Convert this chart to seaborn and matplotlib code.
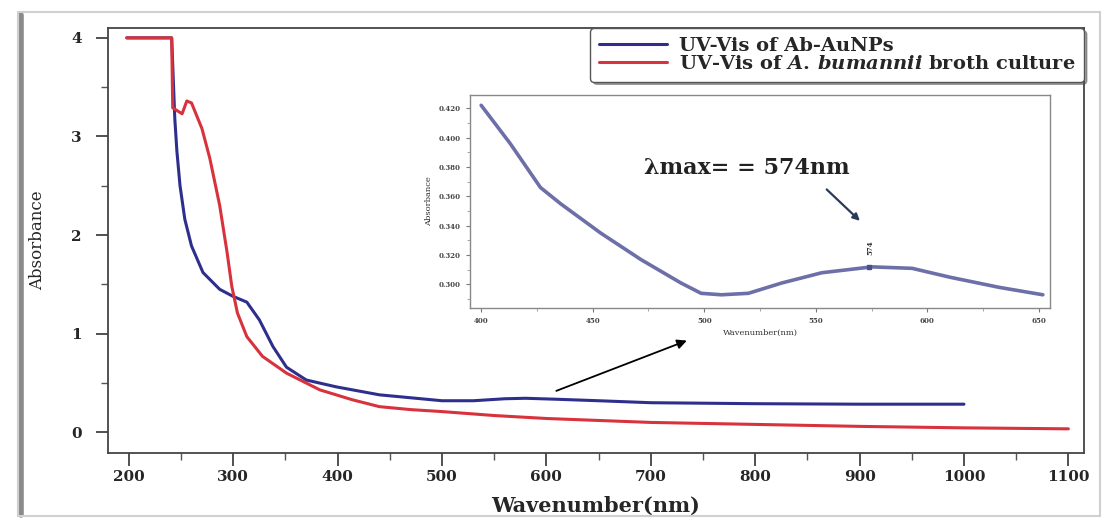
import numpy as np
import pandas as pd
import matplotlib
matplotlib.use("Agg")
import matplotlib.pyplot as plt
import seaborn as sns
from matplotlib.ticker import MultipleLocator, FormatStrFormatter
from matplotlib.patches import Rectangle
from matplotlib.lines import Line2D

# ---------------- data ----------------
blue_nm = [198, 241, 244, 246, 249, 253.6, 260, 271, 287, 299.5, 313, 325, 338, 351, 370, 399,
           440, 470, 500, 530, 560, 580, 610, 650, 700, 800, 900, 1000]
blue_abs = [4.0, 4.0, 3.18, 2.85, 2.50, 2.16, 1.89, 1.62, 1.45, 1.38, 1.32, 1.14, 0.87, 0.66, 0.53, 0.46,
            0.38, 0.35, 0.32, 0.32, 0.34, 0.345, 0.335, 0.32, 0.30, 0.29, 0.285, 0.285]

red_nm = [198, 241, 242, 251, 255.5, 260, 270, 277.5, 287, 294, 298.6, 304, 313, 328, 351, 383, 414,
          440, 470, 500, 550, 600, 650, 700, 800, 900, 1000, 1100]
red_abs = [4.0, 4.0, 3.29, 3.23, 3.36, 3.34, 3.08, 2.78, 2.30, 1.83, 1.48, 1.21, 0.97, 0.77, 0.60, 0.43, 0.33,
           0.26, 0.23, 0.21, 0.17, 0.14, 0.12, 0.10, 0.08, 0.06, 0.045, 0.035]

inset_nm = [400, 413, 426.6, 435.6, 453.6, 471.6, 489.6, 498.6, 507.7, 519.8, 534.7, 552.7, 575.2,
            593.2, 610, 632.4, 651.8]
inset_abs = [0.422, 0.396, 0.366, 0.355, 0.335, 0.317, 0.301, 0.294, 0.293, 0.294, 0.301, 0.308, 0.312,
             0.311, 0.305, 0.298, 0.293]

series_names = ["UV-Vis of Ab-AuNPs", "UV-Vis of $\\mathit{A.\\,bumannii}$ broth culture"]
main_xticks = [200, 300, 400, 500, 600, 700, 800, 900, 1000, 1100]
main_yticks = [0, 1, 2, 3, 4]
inset_xticks = [400, 450, 500, 550, 600, 650]
inset_yticks = [0.30, 0.32, 0.34, 0.36, 0.38, 0.40, 0.42]
peak_nm = 574
peak_abs = 0.312

# ---------------- style ----------------
sns.set_theme(style="ticks")
plt.rcParams['font.family'] = ['DejaVu Serif']
plt.rcParams['font.weight'] = 'bold'
plt.rcParams['mathtext.fontset'] = 'custom'
plt.rcParams['mathtext.it'] = 'DejaVu Serif:italic:bold'
plt.rcParams['mathtext.rm'] = 'DejaVu Serif:bold'

BLUE = "#2e2f8c"
RED = "#d8323c"
INSET = "#6d70a8"

df = pd.concat([
    pd.DataFrame({"nm": blue_nm, "abs": blue_abs, "series": series_names[0]}),
    pd.DataFrame({"nm": red_nm, "abs": red_abs, "series": series_names[1]}),
], ignore_index=True)

fig = plt.figure(figsize=(11.02, 5.20), dpi=100)
ax = fig.add_axes([108/1102, 1-453/520, (1084-108)/1102, (453-28)/520])

sns.lineplot(data=df, x="nm", y="abs", hue="series", palette=[BLUE, RED],
             estimator=None, sort=False, lw=2.2, ax=ax)

ax.set_xlim(180, 1115)
ax.set_ylim(-0.21, 4.1)
ax.set_xticks(main_xticks)
ax.set_yticks(main_yticks)
ax.xaxis.set_minor_locator(MultipleLocator(50))
ax.yaxis.set_minor_locator(MultipleLocator(0.5))
ax.tick_params(axis='both', which='major', direction='out', length=9, width=1.2,
               labelsize=11, color='#333333')
ax.tick_params(axis='y', which='major', pad=10)
ax.tick_params(axis='both', which='minor', direction='out', length=5, width=1.0, color='#555555')
for lab in ax.get_xticklabels() + ax.get_yticklabels():
    lab.set_fontweight('bold')
for s in ax.spines.values():
    s.set_color('#444444')
    s.set_linewidth(1.3)

ax.set_xlabel("Wavenumber(nm)", fontsize=15, fontweight='bold', labelpad=8)
ax.set_ylabel("Absorbance", fontsize=12, fontweight='normal', labelpad=18)

leg = ax.legend(loc='upper right', bbox_to_anchor=(1.0, 1.0), borderaxespad=0.0,
                fontsize=14, frameon=True, fancybox=True, shadow=True,
                handlelength=3.5, handletextpad=0.6, labelspacing=0.0,
                borderpad=0.45, title=None)
leg.get_frame().set_edgecolor('#555555')
leg.get_frame().set_linewidth(1.0)
for t in leg.get_texts():
    t.set_fontweight('bold')

# arrow in main axes pointing to inset
ax.annotate("", xy=(737, 0.94), xytext=(607, 0.41),
            arrowprops=dict(arrowstyle="-|>", color="black", lw=1.3, mutation_scale=14))

# ---------------- inset ----------------
axi = fig.add_axes([470/1102, 1-308/520, 580/1102, 213/520])
sns.lineplot(x=inset_nm, y=inset_abs, color=INSET, lw=2.6, ax=axi, estimator=None, sort=False)
axi.set_xlim(395, 655)
axi.set_ylim(0.284, 0.429)
axi.set_xticks(inset_xticks)
axi.set_yticks(inset_yticks)
axi.xaxis.set_minor_locator(MultipleLocator(25))
axi.yaxis.set_minor_locator(MultipleLocator(0.01))
axi.yaxis.set_major_formatter(FormatStrFormatter('%.3f'))
axi.tick_params(axis='both', which='major', direction='out', length=3, width=0.8,
                labelsize=5, color='#777777', labelcolor='#444444')
axi.tick_params(axis='both', which='minor', direction='out', length=2, width=0.6, color='#999999')
for s in axi.spines.values():
    s.set_color('#888888')
    s.set_linewidth(1.0)
axi.set_xlabel("Wavenumber(nm)", fontsize=6, labelpad=3, color='#333333')
axi.set_ylabel("Absorbance", fontsize=6, labelpad=4, color='#333333')

axi.text(519, 0.379, "λmax= = 574nm", fontsize=16, fontweight='bold',
         ha='center', va='center', color='#222222')
axi.annotate("", xy=(570.7, 0.342), xytext=(554, 0.366),
             arrowprops=dict(arrowstyle="-|>", color="#2a3a5a", lw=1.6, mutation_scale=10))
axi.text(574.5, 0.325, str(peak_nm), fontsize=5, rotation=90, ha='center', va='center',
         color='#333333')
axi.plot([peak_nm], [peak_abs], marker='s', ms=2.5, color='#4a4f8a')

# ---------------- outer screenshot-like border ----------------
fig.patches.append(Rectangle((0.016, 0.008), 0.982, 0.968, transform=fig.transFigure,
                             fill=False, edgecolor='#d0d0d0', lw=1.5, zorder=0))
fig.lines.append(Line2D([0.019, 0.019], [0.01, 0.972], transform=fig.transFigure,
                        color='#8a8a8a', lw=4, zorder=0))

fig.savefig("out.png", dpi=100)
